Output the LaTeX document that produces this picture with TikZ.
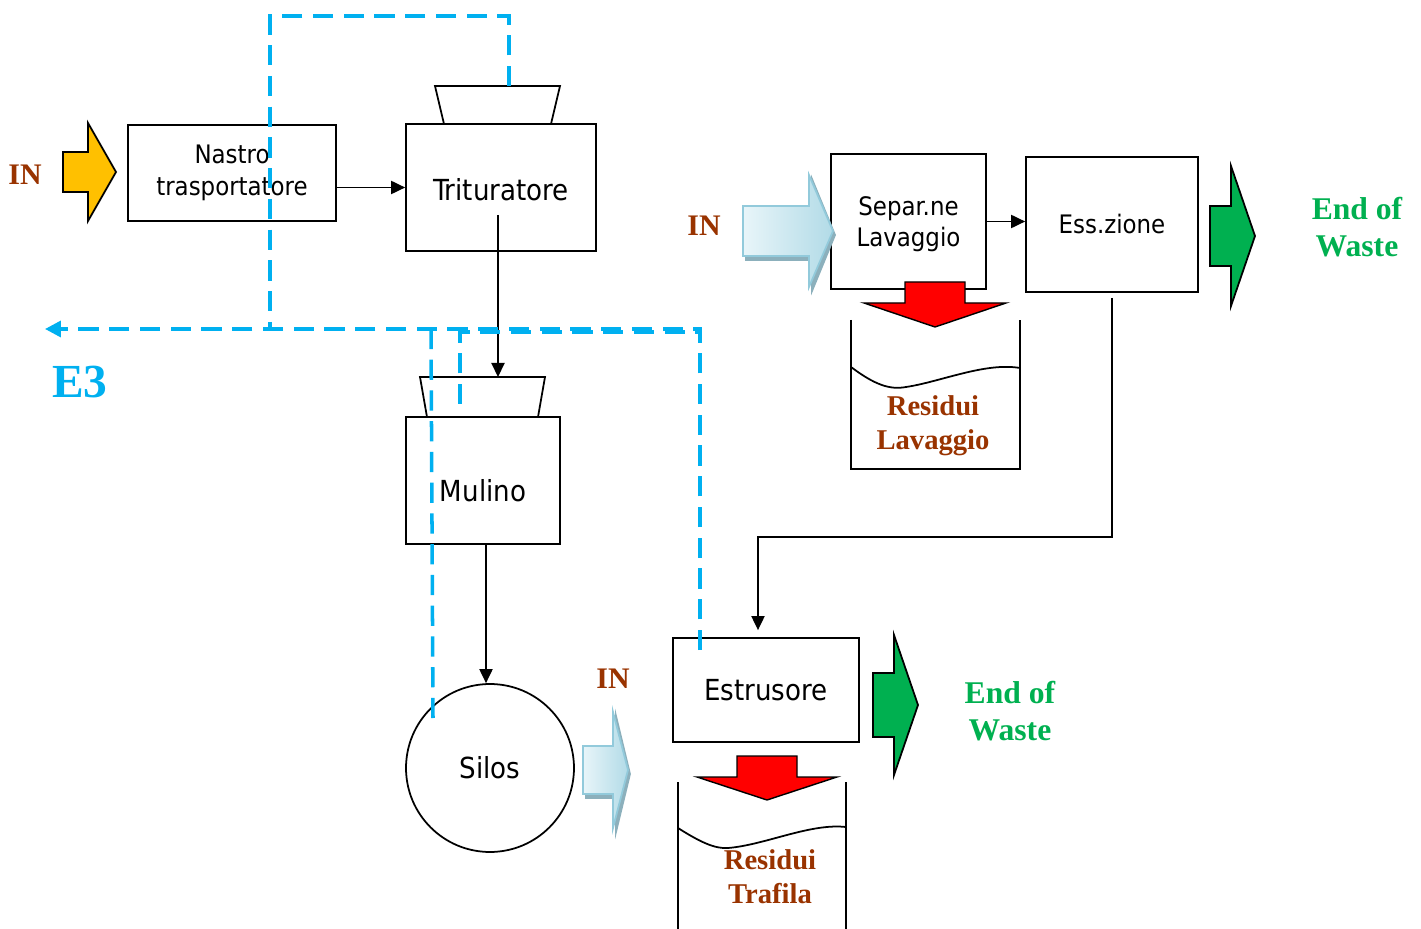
\documentclass[tikz,border=0pt]{standalone}
\usepackage{fontspec}
\setmainfont{Liberation Serif}
\newfontfamily\boxFont{DejaVu Sans Condensed}
\usepackage{tikz}
\usetikzlibrary{positioning,arrows.meta}
\tikzstyle{pixelGrid} = [x = .02cm, y = -.02cm]
\definecolor{inBrown}{RGB}{153,51,0}
\definecolor{wasteGreen}{RGB}{0,176,80}
\definecolor{dustBlue}{RGB}{0,176,240}
\definecolor{feedYellow}{RGB}{255,192,0}
\definecolor{skyLight}{RGB}{232,245,249}
\definecolor{skyDark}{RGB}{178,219,231}
\definecolor{skyEdge}{RGB}{146,202,219}
\definecolor{skyShadow}{RGB}{140,176,188}
\tikzstyle{machineBox} = [draw, line width=1pt, fill=white, inner sep=0pt, align=center, font=\boxFont\fontsize{14.5}{18}\selectfont]
\tikzstyle{bigText} = [font=\boxFont\fontsize{16.5}{20}\selectfont]
\tikzstyle{hopperStyle} = [draw=black, fill=white, line width=1pt]
\tikzstyle{binStyle} = [draw=black, line width=1pt]
\tikzstyle{flowArrow} = [line width=.9pt, -{Triangle[length=8pt,width=7.5pt]}]
\tikzstyle{dustLine} = [color=dustBlue, line width=2pt, dash pattern=on 11.5pt off 6pt]
\tikzstyle{inLabel} = [text=inBrown, font=\bfseries\fontsize{17}{20}\selectfont]
\tikzstyle{wasteLabel} = [text=wasteGreen, align=center, font=\bfseries\fontsize{18}{21}\selectfont]
\tikzstyle{residueLabel} = [text=inBrown, align=center, font=\bfseries\fontsize{16.3}{19.3}\selectfont]
\tikzstyle{yellowArrow} = [draw=black, fill=feedYellow, line width=1pt]
\tikzstyle{greenArrow} = [draw=black, fill=wasteGreen, line width=1pt]
\tikzstyle{redArrow} = [draw=black, fill=red, line width=.8pt]
\tikzstyle{skyArrow} = [draw=skyEdge, left color=skyLight, right color=skyDark, line width=1pt]
\tikzstyle{skyShadowArrow} = [draw=skyShadow, fill=skyShadow, line width=1pt]
% fat block arrow: style, left x, mid y, head x, tip x, shaft half, head half
\newcommand{\rightFatArrow}[7]{\filldraw [#1] (#2, #3 - #6) -- (#4, #3 - #6) -- (#4, #3 - #7) -- (#5, #3) -- (#4, #3 + #7) -- (#4, #3 + #6) -- (#2, #3 + #6) -- cycle;}
% style, mid x, top y, head y, tip y, shaft half, head half
\newcommand{\downFatArrow}[7]{\filldraw [#1] (#2 - #6, #3) -- (#2 + #6, #3) -- (#2 + #6, #4) -- (#2 + #7, #4) -- (#2, #5) -- (#2 - #7, #4) -- (#2 - #6, #4) -- cycle;}
\newcommand{\hopper}[5]{\filldraw [hopperStyle] (#1, #2) -- (#3, #2) -- (#3 - #5, #4) -- (#1 + #5, #4) -- cycle;}

\begin{document}
\begin{tikzpicture}[pixelGrid]
  \useasboundingbox (0,0) rectangle (1421,929);

  % line 1
  \hopper{435}{86}{560}{124}{9}
  \node[machineBox, minimum width=4.16cm, minimum height=1.92cm] (nastro) at (232,173) {Nastro\\trasportatore};
  \node[machineBox, bigText, text height=15pt, minimum width=3.8cm, minimum height=2.54cm] (trituratore) at (501,187.5) {Trituratore};
  \hopper{420}{377}{545}{417}{7}
  \node[machineBox, bigText, text height=24pt, minimum width=3.08cm, minimum height=2.54cm] (mulino) at (483,480.5) {Mulino};
  \node[machineBox, bigText, circle, minimum size=3.36cm] (silos) at (490,768) {Silos};

  % line 2
  \node[machineBox, minimum width=3.1cm, minimum height=2.7cm] (separ) at (908.5,221.5) {\rule{0pt}{14pt}Separ.ne\\Lavaggio};
  \node[machineBox, minimum width=3.44cm, minimum height=2.7cm] (esszione) at (1112,224.5) {Ess.zione};
  \node[machineBox, bigText, minimum width=3.72cm, minimum height=2.08cm] (estrusore) at (766,690) {Estrusore};

  % residues
  \downFatArrow{redArrow}{935}{282}{303}{327}{30}{71}
  \draw[binStyle] (851,320) -- (851,469) -- (1020,469) -- (1020,320);
  \draw[binStyle] (851,367) .. controls (875,385) and (890,390) .. (906,387) .. controls (940,382) and (985,362) .. (1020,368);
  \node[residueLabel] (resLavaggio) at (933,426) {Residui\\Lavaggio};
  \downFatArrow{redArrow}{767}{756}{777}{800}{30}{70}
  \draw[binStyle] (678,782) -- (678,929);
  \draw[binStyle] (846,782) -- (846,929);
  \draw[binStyle] (678,828) .. controls (700,842) and (715,849) .. (728,848) .. controls (765,845) and (810,823) .. (846,827);
  \node[residueLabel] (resTrafila) at (770,877) {Residui\\Trafila};

  % inputs and outputs
  \rightFatArrow{yellowArrow}{63}{172}{88}{116}{20}{49}
  \node[inLabel] (inNastro) at (25,175) {IN};
  \rightFatArrow{skyShadowArrow}{746}{235}{812}{835}{25}{56}
  \rightFatArrow{skyArrow}{743}{231}{809}{833}{25}{56}
  \node[inLabel] (inSepar) at (704,226) {IN};
  \rightFatArrow{skyShadowArrow}{586}{774}{616}{630}{24}{58}
  \rightFatArrow{skyArrow}{583}{770}{613}{628}{24}{58}
  \node[inLabel] (inEstrusore) at (613,679) {IN};
  \rightFatArrow{greenArrow}{1210}{236}{1231}{1255}{30}{70}
  \node[wasteLabel] (wasteOne) at (1357,227) {End of\\Waste};
  \rightFatArrow{greenArrow}{873}{705}{894}{918}{32}{70}
  \node[wasteLabel] (wasteTwo) at (1010,711) {End of\\Waste};

  % material flow
  \coordinate (tritOut) at (498,215);
  \coordinate (mulinoIn) at (498,377);
  \draw[flowArrow] (nastro.east |- trituratore.west) -- (trituratore.west);
  \draw[flowArrow] (tritOut) -- (mulinoIn);
  \draw[flowArrow] ([xshift=-.08cm]silos.north |- mulino.south) -- ([xshift=-.08cm]silos.north);
  \draw[flowArrow] (separ.east) -- (separ.east -| esszione.west);
  \draw[flowArrow, shorten >=4pt] ([yshift=-.1cm]esszione.south) -- ++(0,239) -| ([xshift=-.16cm]estrusore.north);

  % dust extraction E3
  \coordinate (tritHopTop) at (509,86);
  \coordinate (mulinoHopDust) at (460,404);
  \coordinate (silosDust) at (433,718);
  \coordinate (estrusoreDust) at (700,650);
  \coordinate (dustEnd) at (45,329);
  \draw[dustLine] (tritHopTop) -- (509,16) -- (270,16) -- (270,329);
  \draw[dustLine, -{Triangle[length=9pt,width=9pt]}] (estrusoreDust) -- (700,329) -- (dustEnd);
  \draw[dustLine] (mulinoHopDust) -- (460,332) -- (700,332);
  \draw[dustLine] (silosDust) -- (431,329);
  \node[text=dustBlue, font=\bfseries\fontsize{27}{30}\selectfont] (dustLabel) at (80,382) {E3};
\end{tikzpicture}
\end{document}
